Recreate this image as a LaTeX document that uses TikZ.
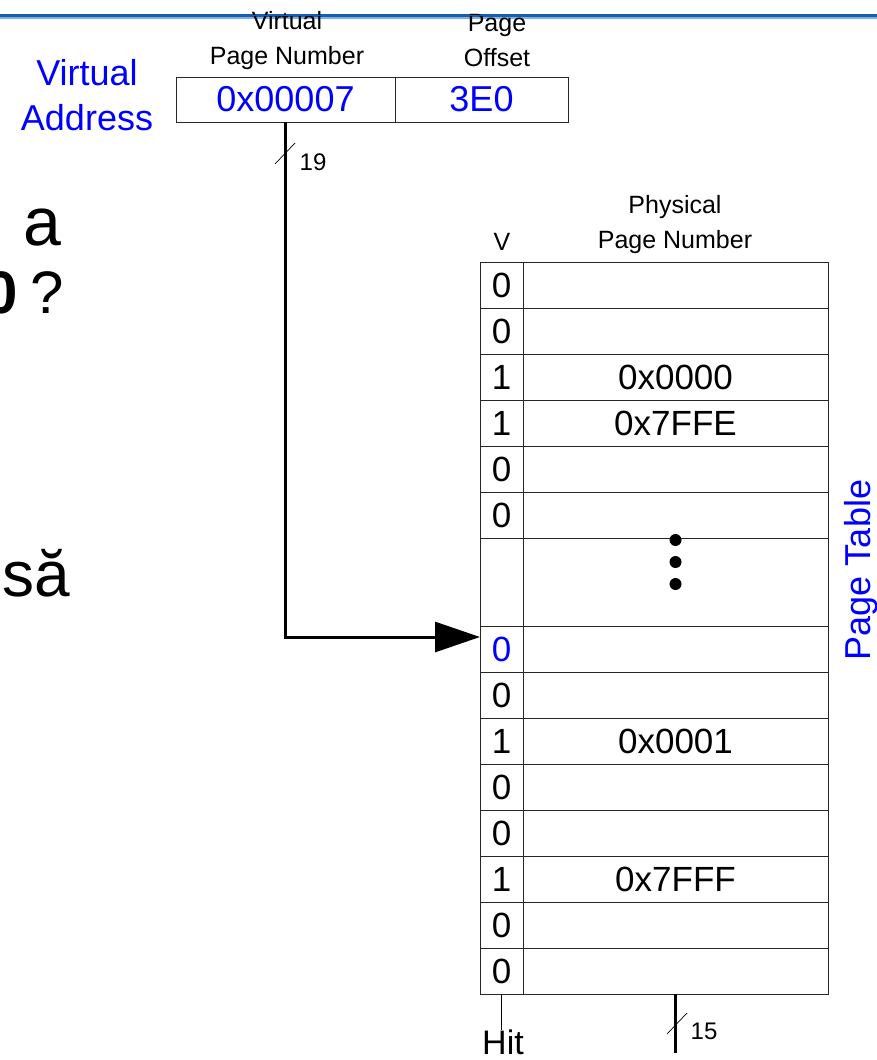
\documentclass[tikz,border=0pt]{standalone}
\usepackage{fontspec}
\setmainfont{Liberation Sans}
\usetikzlibrary{arrows.meta}
\definecolor{lblue}{RGB}{0,0,255}
\definecolor{barA}{RGB}{20,95,175}
\definecolor{barB}{RGB}{130,175,225}
\tikzset{
  fs/.style={font=\fontsize{#1}{#1}\selectfont},
  cell/.style={draw=black!85, line width=0.9pt, inner sep=0pt, outer sep=0pt, anchor=north west, minimum height=46pt},
  vcell/.style={cell, minimum width=43pt, fs=35},
  pcell/.style={cell, minimum width=305pt, fs=35},
  lbl/.style={align=center, font=\fontsize{25}{35}\selectfont, inner sep=0pt},
  bus/.style={line width=3pt},
  slash/.style={line width=0.7pt},
}
\begin{document}
\begin{tikzpicture}[x=1pt,y=-1pt]
\useasboundingbox (0,0) rectangle (877,1060);
% background fragments
\node[fs=68, anchor=base, inner sep=0pt] (fa) at (42,245) {a};
\node[fs=60, anchor=base east, inner sep=0pt] (fq) at (64,313) {\textbf{0}\hspace{13pt}?};
\node[fs=64, anchor=base west, inner sep=0pt] (fs) at (2,596) {să};
% virtual address
\node[align=center, inner sep=0pt, font=\fontsize{36}{45}\selectfont, text=lblue] (va) at (87,95) {Virtual\\Address};
% top bar
\draw[barA, line width=2.4pt] (0,15.5) -- (877,15.5);
\draw[barB, line width=1.8pt] (0,18.2) -- (877,18.2);
\node[lbl] (vpnlbl) at (287,41) {Virtual\\Page Number};
\node[lbl] (offlbl) at (497,41) {Page\\Offset};
\draw[barA, line width=1.2pt] (0,15.5) -- (877,15.5);
\node[cell, minimum width=219pt, minimum height=45pt, fs=36, text=lblue] (vpn) at (176,77) {0x00007};
\node[cell, minimum width=173pt, minimum height=45pt, fs=36, text=lblue] (off) at (395,77) {3E0};
% table headers
\node[lbl] (vh) at (502,242) {V};
\node[lbl] (ppnh) at (675,225) {Physical\\Page Number};
% table rows
\node[vcell] (v1) at (480,262) {0}; \node[pcell] (p1) at (523,262) {};
\node[vcell] (v2) at (480,308) {0}; \node[pcell] (p2) at (523,308) {};
\node[vcell] (v3) at (480,354) {1}; \node[pcell] (p3) at (523,354) {0x0000};
\node[vcell] (v4) at (480,400) {1}; \node[pcell] (p4) at (523,400) {0x7FFE};
\node[vcell] (v5) at (480,446) {0}; \node[pcell] (p5) at (523,446) {};
\node[vcell] (v6) at (480,492) {0}; \node[pcell] (p6) at (523,492) {};
\node[vcell, minimum height=88pt] (v7) at (480,538) {}; \node[pcell, minimum height=88pt] (p7) at (523,538) {};
\node[vcell, text=lblue] (v8) at (480,626) {0}; \node[pcell] (p8) at (523,626) {};
\node[vcell] (v9) at (480,672) {0}; \node[pcell] (p9) at (523,672) {};
\node[vcell] (v10) at (480,718) {1}; \node[pcell] (p10) at (523,718) {0x0001};
\node[vcell] (v11) at (480,764) {0}; \node[pcell] (p11) at (523,764) {};
\node[vcell] (v12) at (480,810) {0}; \node[pcell] (p12) at (523,810) {};
\node[vcell] (v13) at (480,856) {1}; \node[pcell] (p13) at (523,856) {0x7FFF};
\node[vcell] (v14) at (480,902) {0}; \node[pcell] (p14) at (523,902) {};
\node[vcell] (v15) at (480,948) {0}; \node[pcell] (p15) at (523,948) {};
% dots
\fill (675.5,540) circle (6pt);
\fill (675.5,562) circle (6pt);
\fill (675.5,584) circle (6pt);
% page table label
\node[rotate=90, anchor=base, fs=36, text=lblue, inner sep=0pt] (ptl) at (870,570) {Page Table};
% arrow from VPN to table
\coordinate (tip) at (480,637);
\draw[bus, -{Triangle[length=45pt,width=30pt]}] (vpn.south) |- (tip);
\draw[slash] (275,164) -- (295,143);
\node[fs=24, inner sep=0pt] (n19) at (313,162) {19};
% outputs
\coordinate (hitend) at (501.5,1030);
\draw[line width=0.9pt] (v15.south) -- (hitend);
\node[fs=34, anchor=north, inner sep=0pt] (hit) at (503,1030) {Hit};
\coordinate (ppnend) at (675.5,1053);
\draw[bus] (p15.south) -- (ppnend);
\draw[slash] (667,1034) -- (687,1013);
\node[fs=24, inner sep=0pt] (n15) at (704,1031) {15};
\end{tikzpicture}
\end{document}
